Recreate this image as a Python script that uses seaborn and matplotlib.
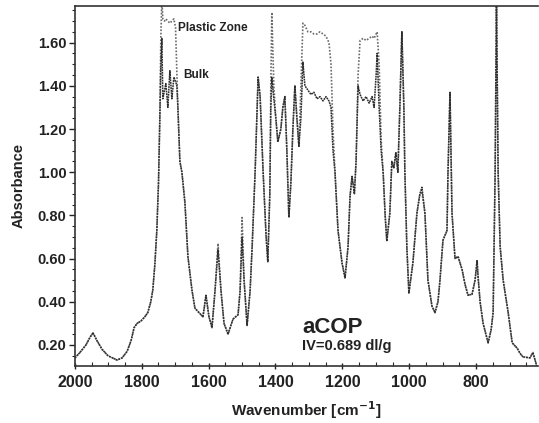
import matplotlib
matplotlib.use("Agg")
import matplotlib.pyplot as plt
import seaborn as sns
import numpy as np
from matplotlib.ticker import MultipleLocator, FormatStrFormatter

### Data
wavenumber = [2000, 1985, 1967, 1955, 1946, 1934, 1919, 1901, 1874, 1859,
              1844, 1832, 1823, 1814, 1803, 1791, 1782, 1773, 1767, 1761,
              1755, 1750, 1746, 1743, 1740, 1737, 1732, 1728, 1722, 1716,
              1710, 1704, 1699, 1695, 1692, 1686, 1680, 1671, 1662, 1650,
              1641, 1626, 1617, 1608, 1599, 1590, 1581, 1572, 1563, 1554,
              1542, 1527, 1512, 1506, 1500, 1494, 1485, 1476, 1470, 1461,
              1455, 1452, 1446, 1437, 1428, 1423, 1417, 1414, 1411, 1405,
              1399, 1393, 1384, 1378, 1372, 1366, 1360, 1354, 1348, 1342,
              1336, 1330, 1324, 1318, 1312, 1303, 1294, 1285, 1276, 1267,
              1258, 1249, 1240, 1234, 1228, 1222, 1213, 1201, 1192, 1183,
              1177, 1171, 1164, 1159, 1153, 1147, 1138, 1129, 1120, 1111,
              1105, 1099, 1096, 1090, 1084, 1078, 1072, 1067, 1058, 1052,
              1046, 1040, 1034, 1028, 1022, 1016, 1013, 1007, 1001, 989,
              977, 968, 962, 953, 944, 932, 923, 914, 908, 899,
              887, 884, 878, 872, 863, 854, 842, 833, 824, 812,
              803, 797, 794, 788, 779, 764, 755, 749, 743, 739,
              734, 728, 719, 704, 692, 677, 668, 660, 639, 630,
              618]

bulk = [0.14, 0.165, 0.20, 0.235, 0.256, 0.22, 0.18, 0.15, 0.13, 0.14,
        0.17, 0.22, 0.28, 0.30, 0.31, 0.33, 0.35, 0.40, 0.455, 0.57,
        0.73, 0.95, 1.25, 1.50, 1.62, 1.34, 1.38, 1.41, 1.30, 1.47,
        1.34, 1.44, 1.42, 1.40, 1.30, 1.05, 1.00, 0.86, 0.61, 0.455,
        0.37, 0.345, 0.33, 0.43, 0.33, 0.28, 0.45, 0.64, 0.45, 0.30,
        0.25, 0.32, 0.34, 0.45, 0.70, 0.50, 0.29, 0.45, 0.65, 1.00,
        1.30, 1.44, 1.35, 1.00, 0.70, 0.585, 0.90, 1.30, 1.44, 1.34,
        1.25, 1.14, 1.20, 1.30, 1.35, 1.10, 0.79, 0.95, 1.20, 1.40,
        1.25, 1.12, 1.25, 1.51, 1.40, 1.38, 1.36, 1.37, 1.34, 1.35,
        1.33, 1.35, 1.33, 1.30, 1.10, 1.00, 0.73, 0.58, 0.51, 0.655,
        0.89, 0.98, 0.90, 1.05, 1.40, 1.36, 1.33, 1.35, 1.32, 1.35,
        1.30, 1.45, 1.55, 1.30, 1.10, 1.00, 0.80, 0.68, 0.81, 1.05,
        1.02, 1.09, 1.00, 1.30, 1.65, 1.30, 1.00, 0.65, 0.44, 0.58,
        0.81, 0.90, 0.93, 0.81, 0.50, 0.38, 0.35, 0.40, 0.50, 0.685,
        0.73, 1.00, 1.37, 0.81, 0.60, 0.61, 0.55, 0.48, 0.43, 0.435,
        0.50, 0.59, 0.515, 0.40, 0.30, 0.21, 0.27, 0.35, 1.00, 1.80,
        1.00, 0.655, 0.50, 0.35, 0.21, 0.185, 0.16, 0.145, 0.14, 0.165,
        0.10]

plastic = [0.14, 0.165, 0.20, 0.235, 0.256, 0.22, 0.18, 0.15, 0.13, 0.14,
           0.17, 0.22, 0.28, 0.30, 0.31, 0.33, 0.35, 0.40, 0.455, 0.57,
           0.73, 0.95, 1.25, 1.62, 1.80, 1.71, 1.70, 1.71, 1.70, 1.69,
           1.70, 1.71, 1.67, 1.45, 1.30, 1.05, 1.00, 0.86, 0.61, 0.455,
           0.37, 0.345, 0.33, 0.43, 0.33, 0.28, 0.45, 0.67, 0.45, 0.30,
           0.25, 0.32, 0.34, 0.45, 0.79, 0.50, 0.29, 0.45, 0.65, 1.00,
           1.30, 1.44, 1.35, 1.00, 0.70, 0.585, 0.90, 1.40, 1.74, 1.40,
           1.25, 1.14, 1.20, 1.30, 1.35, 1.10, 0.79, 0.95, 1.20, 1.40,
           1.25, 1.12, 1.40, 1.69, 1.68, 1.65, 1.65, 1.64, 1.64, 1.65,
           1.64, 1.63, 1.60, 1.50, 1.20, 1.00, 0.73, 0.58, 0.51, 0.655,
           0.89, 0.98, 0.90, 1.05, 1.45, 1.61, 1.62, 1.61, 1.62, 1.63,
           1.62, 1.64, 1.65, 1.50, 1.15, 1.00, 0.80, 0.68, 0.81, 1.05,
           1.02, 1.09, 1.00, 1.30, 1.65, 1.30, 1.00, 0.65, 0.44, 0.58,
           0.81, 0.90, 0.91, 0.81, 0.50, 0.38, 0.35, 0.40, 0.50, 0.685,
           0.73, 1.00, 1.37, 0.81, 0.60, 0.61, 0.55, 0.48, 0.43, 0.435,
           0.50, 0.59, 0.515, 0.40, 0.30, 0.21, 0.27, 0.35, 1.00, 1.80,
           1.00, 0.655, 0.50, 0.35, 0.21, 0.185, 0.16, 0.145, 0.14, 0.165,
           0.10]

x_ticks = [2000, 1800, 1600, 1400, 1200, 1000, 800]
y_ticks = [0.20, 0.40, 0.60, 0.80, 1.00, 1.20, 1.40, 1.60]

### Style
sns.set_style("ticks")
plt.rcParams['font.family'] = ['Liberation Sans', 'DejaVu Sans']
plt.rcParams['font.weight'] = 'bold'

fig = plt.figure(figsize=(5.39, 4.23), dpi=100)
ax = fig.add_axes([0.139, 0.135, 0.859, 0.851])

## Spectra: plastic zone (lighter dotted) under bulk (darker)
sns.lineplot(x=wavenumber, y=plastic, ax=ax, estimator=None, sort=False,
             color='#6a6a6a', linestyle=(0, (1, 1)), linewidth=1.2)
sns.lineplot(x=wavenumber, y=bulk, ax=ax, estimator=None, sort=False,
             color='#2e2e2e', linestyle=(0, (1.2, 0.5)), linewidth=1.1)

ax.set_xlim(2000, 615)
ax.set_ylim(0.103, 1.77)
ax.set_xticks(x_ticks)
ax.set_yticks(y_ticks)
ax.xaxis.set_minor_locator(MultipleLocator(50))
ax.yaxis.set_minor_locator(MultipleLocator(0.05))
ax.yaxis.set_major_formatter(FormatStrFormatter('%.2f'))
ax.tick_params(axis='x', which='major', direction='inout', length=5, width=1.0,
               labelsize=11.5, pad=4, colors='#222222')
ax.tick_params(axis='x', which='minor', direction='in', length=3, width=0.8)
ax.tick_params(axis='y', which='major', direction='out', length=4, width=1.0,
               labelsize=10.5, pad=2, colors='#222222')
ax.tick_params(axis='y', which='minor', direction='out', length=2.5, width=0.8)
for lbl in ax.get_xticklabels() + ax.get_yticklabels():
    lbl.set_fontweight('bold')

for side in ['left', 'bottom', 'top']:
    ax.spines[side].set_color('#333333')
    ax.spines[side].set_linewidth(1.2)
ax.spines['right'].set_visible(False)

ax.set_xlabel('Wavenumber [cm$^{\\mathbf{-1}}$]', fontsize=11, fontweight='bold',
              color='#222222', labelpad=7)
ax.set_ylabel('Absorbance', fontsize=10.5, fontweight='bold', color='#222222', labelpad=9)

## Annotations
ax.text(1692, 1.67, 'Plastic Zone', fontsize=8.5, fontweight='bold', color='#222222', va='center')
ax.text(1677, 1.45, 'Bulk', fontsize=8.5, fontweight='bold', color='#222222', va='center')
ax.text(1321, 0.283, 'aCOP', fontsize=16, fontweight='bold', color='#222222', va='center')
ax.text(1321, 0.195, 'IV=0.689 dl/g', fontsize=10.5, fontweight='bold', color='#222222', va='center')

fig.savefig('out.png', dpi=100, facecolor='white')
